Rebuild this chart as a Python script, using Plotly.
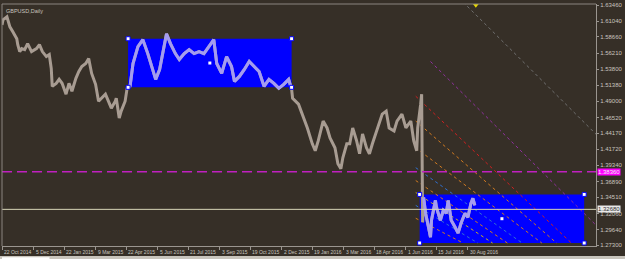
import plotly.graph_objects as go

# ---- data ----
bar_idx = [0,1,5,8,11,15,16,18,20,23,26,30,35,38,41,45,48,50,51,55,58,61,65,68,71,75,78,81,85,88,91,95,98,101,105,108,111,115,116,119,121,125,127,
           130,133,138,143,148,153,156,160,163,167,171,176,180,185,190,195,200,205,210,215,218,223,228,233,236,241,246,251,256,261,266,271,276,281,286,291,294,
           295,301,305,310,315,318,321,326,330,333,338,341,344,346,350,353,356,360,363,366,370,373,376,381,386,390,393,398,401,406,410,415,418,421,422,425,426,
           427,428,430,433,435,436,440,441,445,448,451,453,456,460,463,466,470,473,476,478,480]
close = [1.6047,1.6122,1.6167,1.6017,1.5943,1.5838,1.5749,1.5644,1.5689,1.5674,1.5764,1.5644,1.5689,1.5749,1.5644,1.5569,1.5599,1.5390,1.5121,1.5166,1.5226,1.5166,1.5002,1.5166,1.5046,1.5241,1.5345,1.5420,1.5465,1.5539,1.5315,1.5151,1.4897,1.4942,1.5002,1.4897,1.4792,1.4897,1.4942,1.4643,1.4748,1.4897,1.5091,
         1.5121,1.5465,1.5719,1.5823,1.5614,1.5375,1.5226,1.5375,1.5614,1.5913,1.5764,1.5614,1.5524,1.5614,1.5674,1.5614,1.5644,1.5614,1.5719,1.5823,1.5465,1.5315,1.5569,1.5420,1.5196,1.5270,1.5375,1.5495,1.5420,1.5345,1.5121,1.5226,1.5166,1.5091,1.5151,1.5226,1.5076,
         1.4942,1.4852,1.4703,1.4494,1.4255,1.4150,1.4299,1.4598,1.4494,1.4344,1.4195,1.3956,1.3881,1.4045,1.4255,1.4255,1.4494,1.4299,1.4105,1.4404,1.4195,1.4105,1.4255,1.4494,1.4703,1.4748,1.4494,1.4449,1.4598,1.4703,1.4494,1.4598,1.4299,1.4150,1.4494,1.4852,1.5002,
         1.3074,1.3448,1.3209,1.2999,1.2850,1.3104,1.3403,1.3298,1.3104,1.3254,1.3209,1.3403,1.3104,1.2999,1.2910,1.3059,1.3209,1.3149,1.3358,1.3433,1.3328]

date_tick_bars = [0,32,63,95,126,158,189,221,252,284,315,347,378,410,441,473]
date_tick_text = ["22 Oct 2014","5 Dec 2014","22 Jan 2015","9 Mar 2015","22 Apr 2015","5 Jun 2015",
                  "21 Jul 2015","3 Sep 2015","19 Oct 2015","2 Dec 2015","19 Jan 2016","3 Mar 2016",
                  "18 Apr 2016","1 Jun 2016","15 Jul 2016","30 Aug 2016"]
price_ticks = [1.63460,1.61040,1.58660,1.56210,1.53800,1.51380,1.49000,1.46520,1.44170,
               1.41720,1.39340,1.36890,1.34510,1.32060,1.29640,1.27300]

# rectangles: (bar start, bar end, price top, price bottom)
rect_bar0 = [128, 424]
rect_bar1 = [294, 591]
rect_top = [1.5838, 1.3493]
rect_bot = [1.5106, 1.2761]

hline_magenta = 1.38360
hline_bid = 1.32680

# diagonal dotted lines: start bar, start price, end bar, end price, colour
fan_b0 = [420, 420, 420, 420, 420, 420, 420, 420, 435, 468]
fan_p0 = [1.4972, 1.4598, 1.4195, 1.3896, 1.3702, 1.3522, 1.3328, 1.3134, 1.5495, 1.6391]
fan_b1 = [578, 563, 548, 528, 513, 498, 483, 468, 603, 603]
fan_p1 = [1.2761, 1.2761, 1.2761, 1.2761, 1.2761, 1.2761, 1.2761, 1.2761, 1.3030, 1.4400]
fan_col = ["#d02020", "#d07a20", "#d07a20", "#3070d0", "#d07a20", "#c8b020", "#3070d0", "#d07a20", "#9030a0", "#707070"]

BG = "#362f27"
GRAY = "#a89c92"
LAV = "#a49cf2"
AX = "#9a958f"
TXT = "#c8c4bf"
FONT = "Liberation Sans"

fig = go.Figure()

for i in range(len(rect_bar0)):
    fig.add_shape(type="rect", x0=rect_bar0[i], x1=rect_bar1[i], y0=rect_bot[i], y1=rect_top[i],
                  fillcolor="#0000ff", line=dict(width=0), layer="below")

fig.add_shape(type="line", xref="paper", x0=0, x1=1, y0=hline_magenta, y1=hline_magenta,
              line=dict(color="#c020c0", width=1.5, dash="10px,5px"))
fig.add_shape(type="line", xref="paper", x0=0, x1=1, y0=hline_bid, y1=hline_bid,
              line=dict(color="#d8d6b8", width=1))

for i in range(len(fan_b0)):
    fig.add_trace(go.Scatter(x=[fan_b0[i], fan_b1[i]], y=[fan_p0[i], fan_p1[i]], mode="lines",
                             line=dict(color=fan_col[i], width=1, dash="dot"), hoverinfo="skip",
                             showlegend=False))

fig.add_trace(go.Scatter(x=bar_idx, y=close, mode="lines", line=dict(color=GRAY, width=3),
                         showlegend=False, hoverinfo="skip"))

ox, oy = [], []
for i in range(len(rect_bar0)):
    start = rect_bar0[i] + (4 if i == 1 else 0)
    for b, p in zip(bar_idx, close):
        if start <= b <= rect_bar1[i]:
            ox.append(b); oy.append(p)
    ox.append(None); oy.append(None)
fig.add_trace(go.Scatter(x=ox, y=oy, mode="lines", line=dict(color=LAV, width=3),
                         showlegend=False, hoverinfo="skip", connectgaps=False))

cx, cy = [], []
for i in range(len(rect_bar0)):
    cx += [rect_bar0[i], rect_bar1[i], rect_bar0[i], rect_bar1[i]]
    cy += [rect_top[i], rect_top[i], rect_bot[i], rect_bot[i]]
fig.add_trace(go.Scatter(x=cx, y=cy, mode="markers",
                         marker=dict(symbol="square", size=4, color="white", line=dict(color="#0000ff", width=1)),
                         showlegend=False, hoverinfo="skip"))
mx = [(rect_bar0[i] + rect_bar1[i]) / 2 for i in range(len(rect_bar0))]
my = [(rect_top[i] + rect_bot[i]) / 2 for i in range(len(rect_bar0))]
fig.add_trace(go.Scatter(x=mx, y=my, mode="markers", marker=dict(symbol="square", size=3, color="white"),
                         showlegend=False, hoverinfo="skip"))

fig.add_trace(go.Scatter(x=[481], y=[1.6350], mode="markers",
                         marker=dict(symbol="triangle-down", size=6, color="#e8d800"),
                         showlegend=False, hoverinfo="skip"))

for b, t in zip(date_tick_bars, date_tick_text):
    fig.add_annotation(x=b, y=0, xref="x", yref="paper", text=t, showarrow=False,
                       xanchor="left", yanchor="top", yshift=-1, xshift=0,
                       font=dict(family=FONT, size=5, color=TXT))

fig.add_annotation(x=1, y=hline_magenta, xref="paper", yref="y", text=f"{hline_magenta:.5f}",
                   showarrow=False, xanchor="left", xshift=1, bgcolor="#ff00ff",
                   font=dict(family=FONT, size=6, color="#f0f0f0"), borderpad=0)
fig.add_annotation(x=1, y=hline_bid, xref="paper", yref="y", text=f"{hline_bid:.5f}",
                   showarrow=False, xanchor="left", xshift=1, bgcolor="#e8e8e8",
                   font=dict(family=FONT, size=6, color="#303030"), borderpad=0)

fig.add_annotation(x=0, y=1, xref="paper", yref="paper", text="GBPUSD,Daily", showarrow=False,
                   xanchor="left", yanchor="top", xshift=2, yshift=-2,
                   font=dict(family=FONT, size=5.5, color=TXT))

# bottom strip
fig.add_shape(type="rect", xref="paper", yref="paper", x0=-0.01, x1=1.1, y0=-0.041, y1=-0.06,
              fillcolor="#c8c4bc", line=dict(width=0), layer="above")
fig.add_shape(type="rect", xref="paper", yref="paper", x0=0.0, x1=0.08, y0=-0.046, y1=-0.06,
              fillcolor="#ffffff", line=dict(width=0), layer="above")

fig.update_layout(
    width=625, height=259,
    margin=dict(l=2, r=20, t=2, b=13),
    paper_bgcolor=BG, plot_bgcolor=BG,
    showlegend=False,
    xaxis=dict(range=[0, 603], showgrid=False, zeroline=False, tickmode="array",
               tickvals=date_tick_bars, ticktext=[""] * len(date_tick_bars), ticks="outside",
               ticklen=3, tickcolor=AX, showline=True, linecolor=AX, linewidth=1, mirror=False),
    yaxis=dict(range=[1.2716, 1.6361], side="right", showgrid=False, zeroline=False,
               tickmode="array", tickvals=price_ticks, ticktext=[f"{v:.5f}" for v in price_ticks],
               ticks="outside", ticklen=2, tickcolor=AX, showline=True, linecolor=AX, linewidth=1,
               ticklabeloverflow="allow",
               tickfont=dict(family=FONT, size=6, color=TXT)),
)
fig.add_shape(type="line", xref="paper", yref="paper", x0=0, x1=0, y0=0, y1=1,
              line=dict(color="#8a8580", width=1))
fig.add_shape(type="line", xref="paper", yref="paper", x0=0, x1=1, y0=1, y1=1,
              line=dict(color="#8a8580", width=1))

fig.write_html("out.html")
